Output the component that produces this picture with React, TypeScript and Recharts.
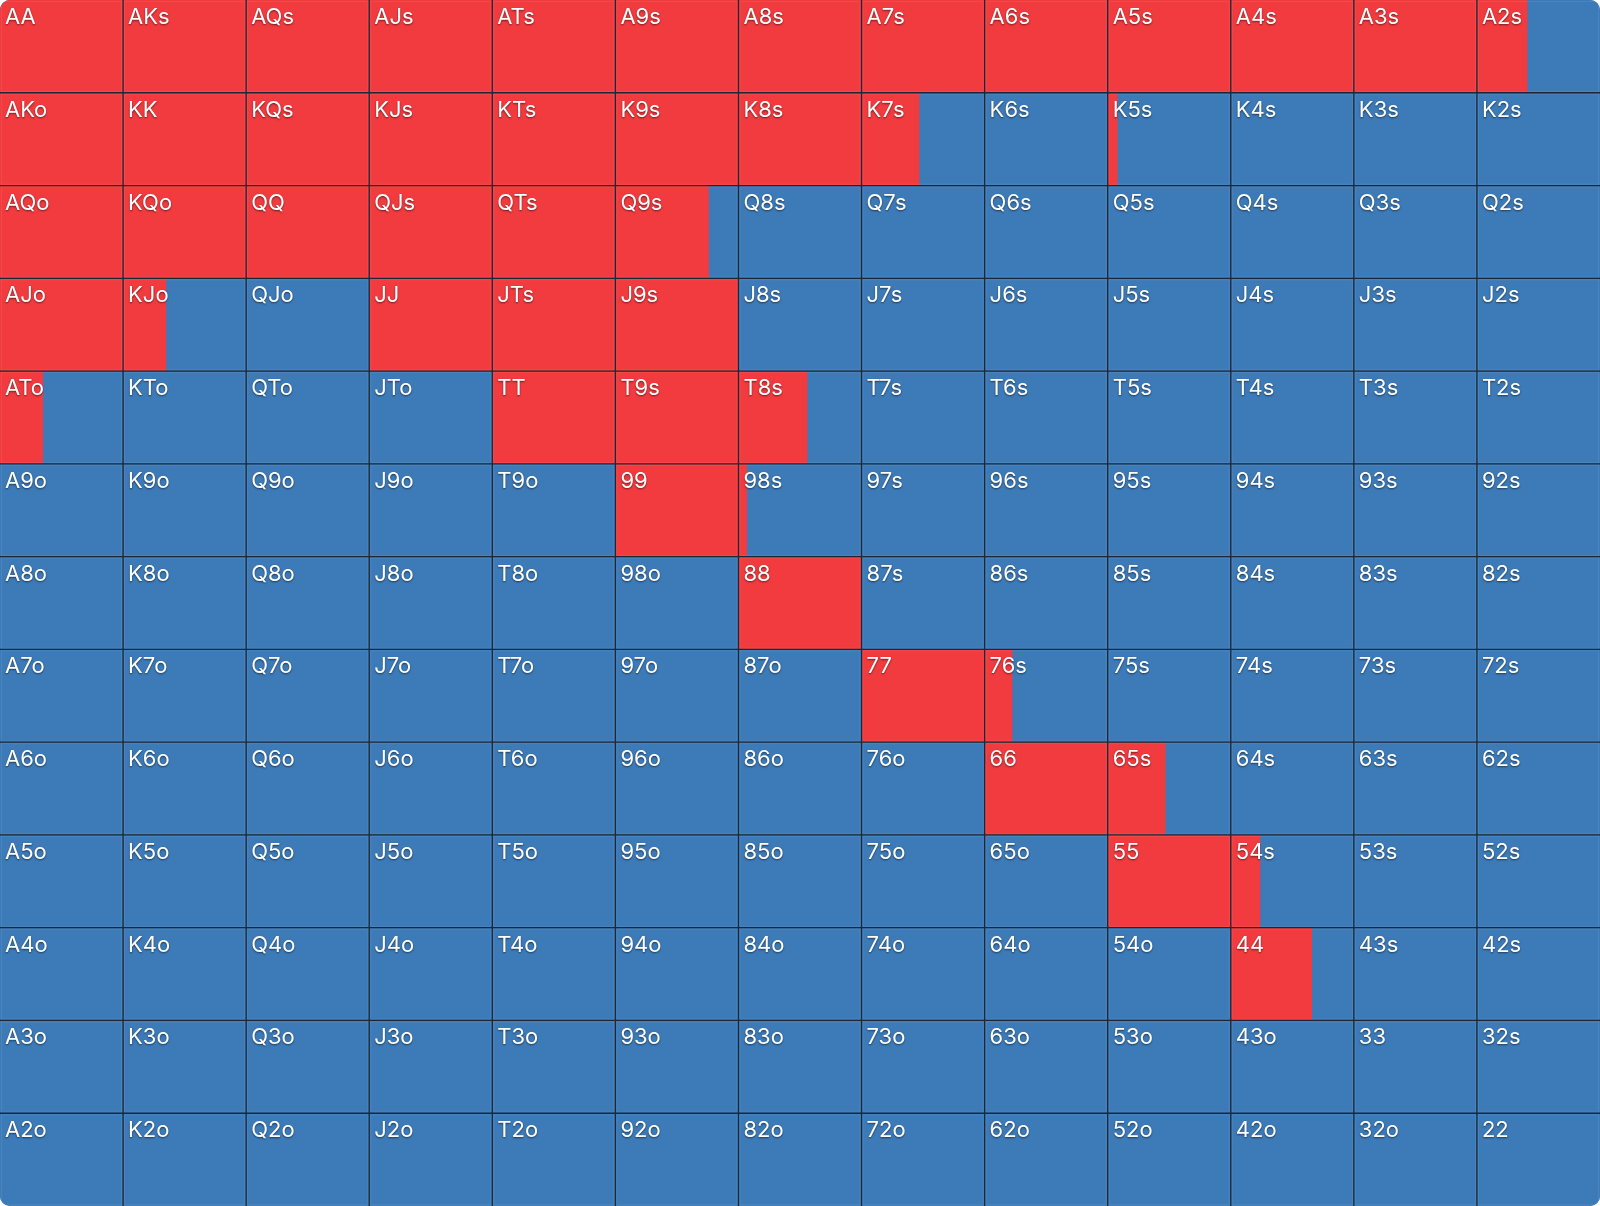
import React from "react";
import { BarChart, Bar, XAxis, YAxis } from "recharts";

const RANKS = ["A", "K", "Q", "J", "T", "9", "8", "7", "6", "5", "4", "3", "2"];

// raise frequency (red share) for each cell, row by row
const rowA = [1, 1, 1, 1, 1, 1, 1, 1, 1, 1, 1, 1, 0.41];
const rowK = [1, 1, 1, 1, 1, 1, 1, 0.47, 0, 0.08, 0, 0, 0];
const rowQ = [1, 1, 1, 1, 1, 0.76, 0, 0, 0, 0, 0, 0, 0];
const rowJ = [1, 0.35, 0, 1, 1, 1, 0, 0, 0, 0, 0, 0, 0];
const rowT = [0.35, 0, 0, 0, 1, 1, 0.56, 0, 0, 0, 0, 0, 0];
const row9 = [0, 0, 0, 0, 0, 1, 0.07, 0, 0, 0, 0, 0, 0];
const row8 = [0, 0, 0, 0, 0, 0, 1, 0, 0, 0, 0, 0, 0];
const row7 = [0, 0, 0, 0, 0, 0, 0, 1, 0.225, 0, 0, 0, 0];
const row6 = [0, 0, 0, 0, 0, 0, 0, 0, 1, 0.47, 0, 0, 0];
const row5 = [0, 0, 0, 0, 0, 0, 0, 0, 0, 1, 0.24, 0, 0];
const row4 = [0, 0, 0, 0, 0, 0, 0, 0, 0, 0, 0.66, 0, 0];
const row3 = [0, 0, 0, 0, 0, 0, 0, 0, 0, 0, 0, 0, 0];
const row2 = [0, 0, 0, 0, 0, 0, 0, 0, 0, 0, 0, 0, 0];

const FREQS = [rowA, rowK, rowQ, rowJ, rowT, row9, row8, row7, row6, row5, row4, row3, row2];

const RED = "#F23B3F";
const BLUE = "#3D7BB8";
const LINE = "#1c2836";

function handLabel(r: number, c: number): string {
  if (r === c) return RANKS[r] + RANKS[c];
  if (c > r) return RANKS[r] + RANKS[c] + "s";
  return RANKS[c] + RANKS[r] + "o";
}

const data = FREQS.map((freqs, r) => {
  const row: any = { row: RANKS[r], r };
  freqs.forEach((f, c) => {
    row["c" + c] = 1;
    row["f" + c] = f;
    row["l" + c] = handLabel(r, c);
  });
  return row;
});

const makeShape = (c: number) => (props: any) => {
  const { x, y, width, height, payload } = props;
  const f = payload["f" + c];
  const label = payload["l" + c];
  const r = payload.r;
  return (
    <g>
      <rect x={x} y={y} width={width} height={height} fill={BLUE} />
      {f > 0 && <rect x={x} y={y} width={width * f} height={height} fill={RED} />}
      <rect
        x={x + 1.5}
        y={y + 1.5}
        width={Math.max(0, width - 3)}
        height={Math.max(0, height - 3)}
        fill="none"
        stroke="rgba(255,255,255,0.07)"
        strokeWidth={1}
      />
      {c > 0 && <line x1={x} x2={x} y1={y} y2={y + height} stroke={LINE} strokeWidth={1.3} />}
      {r > 0 && <line x1={x} x2={x + width} y1={y} y2={y} stroke={LINE} strokeWidth={1.3} />}
      <text
        x={x + 5}
        y={y + 24}
        fill="#ffffff"
        fontSize={22}
        fontFamily="Inter, 'Noto Sans', sans-serif"
        fontWeight={400}
        style={{ textShadow: "0 1px 2px rgba(0,0,0,0.55)" }}
      >
        {label}
      </text>
    </g>
  );
};

const COLS = RANKS.map((_, c) => c);

export default function App() {
  return (
    <div
      style={{
        position: "fixed",
        left: 0,
        top: 0,
        width: 1600,
        height: 1206,
        borderRadius: 10,
        overflow: "hidden",
        background: BLUE,
      }}
    >
      <BarChart
        width={1600}
        height={1206}
        data={data}
        layout="vertical"
        margin={{ top: 0, right: 0, bottom: 0, left: 0 }}
        barCategoryGap={0}
        barGap={0}
      >
        <XAxis type="number" domain={[0, 13]} hide />
        <YAxis type="category" dataKey="row" hide />
        {COLS.map((c) => (
          <Bar
            key={c}
            dataKey={"c" + c}
            stackId="a"
            isAnimationActive={false}
            shape={makeShape(c)}
          />
        ))}
      </BarChart>
    </div>
  );
}
